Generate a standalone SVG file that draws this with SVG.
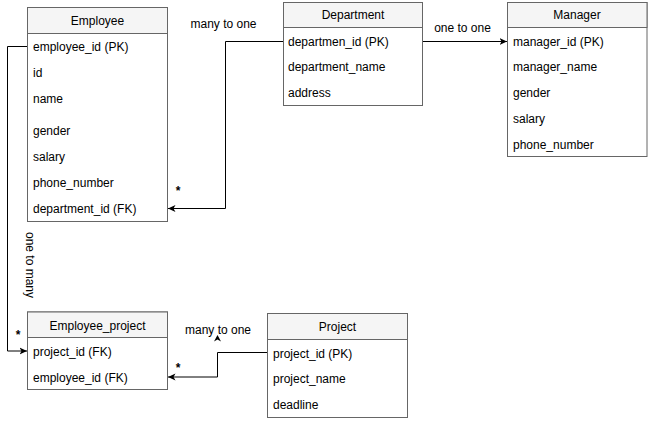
<svg xmlns="http://www.w3.org/2000/svg" width="648" height="421" viewBox="0 0 648 421">
<style>
text{font-family:"Liberation Sans",Arial,sans-serif;font-size:12px;fill:#000}
.box{fill:#fff;stroke:#666;stroke-width:1}
.hdr{fill:#f5f5f5;stroke:#666;stroke-width:1}
.t{text-anchor:middle}
.s{text-anchor:middle;font-weight:bold}
.c{fill:none;stroke:#000;stroke-width:1}
</style>
<defs>
<marker id="arr" markerUnits="userSpaceOnUse" viewBox="0 0 8 8" refX="7.5" refY="4" markerWidth="8" markerHeight="8" orient="auto">
<path d="M0,0.5 L7.5,4 L0,7.5 L2,4 z" fill="#000"/>
</marker>
</defs>
<rect width="648" height="421" fill="#fff"/>
<g id="connectors">
<polyline class="c" points="283,41.5 225.5,41.5 225.5,208.5 168,208.5" marker-end="url(#arr)"/>
<polyline class="c" points="423,41.5 507,41.5" marker-end="url(#arr)"/>
<polyline class="c" points="27,46.5 7.5,46.5 7.5,351 27,351" marker-end="url(#arr)"/>
<polyline class="c" points="267,352.5 217.5,352.5 217.5,377 168,377" marker-end="url(#arr)"/>
<polygon points="217.5,335 221,341.5 217.5,339.5 214,341.5" fill="#000"/>
<text x="223.5" y="27.5" class="t">many to one</text>
<text x="178" y="195" class="s">*</text>
<text x="462.5" y="32" class="t">one to one</text>
<text x="29.5" y="269" class="t" transform="rotate(90 29.5 265)">one to many</text>
<text x="18" y="339" class="s">*</text>
<text x="218" y="334" class="t">many to one</text>
<text x="178" y="372" class="s">*</text>
</g>
<g id="employee">
<rect class="box" x="27.5" y="7.5" width="140" height="214"/>
<rect class="hdr" x="27.5" y="7.5" width="140" height="26"/>
<text x="97.5" y="25" class="t">Employee</text>
<text x="33" y="51">employee_id (PK)</text>
<text x="33" y="77">id</text>
<text x="33" y="103">name</text>
<text x="33" y="135">gender</text>
<text x="33" y="161">salary</text>
<text x="33" y="187">phone_number</text>
<text x="33" y="213">department_id (FK)</text>
</g>
<g id="department">
<rect class="box" x="283.5" y="2.5" width="139" height="103"/>
<rect class="hdr" x="283.5" y="2.5" width="139" height="25"/>
<text x="353" y="19" class="t">Department</text>
<text x="288" y="45.5">departmen_id (PK)</text>
<text x="288" y="71">department_name</text>
<text x="288" y="97">address</text>
</g>
<g id="manager">
<rect class="box" x="507.5" y="2.5" width="139.5" height="154"/>
<rect class="hdr" x="507.5" y="2.5" width="139.5" height="25"/>
<text x="577" y="19" class="t">Manager</text>
<text x="513" y="45.5">manager_id (PK)</text>
<text x="513" y="71">manager_name</text>
<text x="513" y="97">gender</text>
<text x="513" y="123">salary</text>
<text x="513" y="149">phone_number</text>
</g>
<g id="employee_project">
<rect class="box" x="27.5" y="312" width="140" height="77.5"/>
<rect class="hdr" x="27.5" y="312" width="140" height="25.5"/>
<text x="97.5" y="329.5" class="t">Employee_project</text>
<text x="33" y="355.5">project_id (FK)</text>
<text x="33" y="381.5">employee_id (FK)</text>
</g>
<g id="project">
<rect class="box" x="267.5" y="313.5" width="140" height="104"/>
<rect class="hdr" x="267.5" y="313.5" width="140" height="26"/>
<text x="337.5" y="331" class="t">Project</text>
<text x="273" y="357.5">project_id (PK)</text>
<text x="273" y="383">project_name</text>
<text x="273" y="408.5">deadline</text>
</g>
</svg>
